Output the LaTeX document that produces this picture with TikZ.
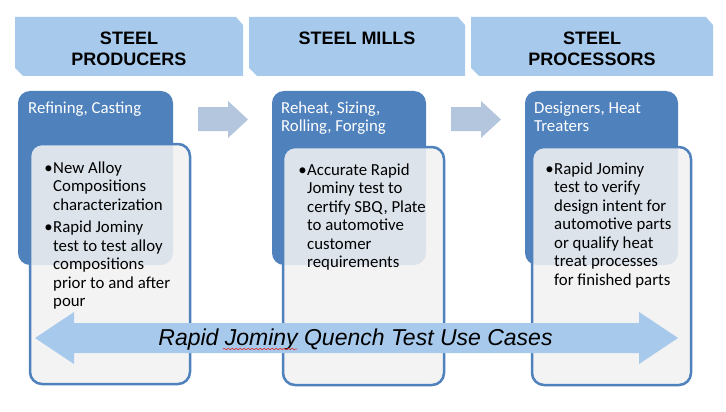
\documentclass[tikz,border=0pt]{standalone}
\usepackage{fontspec}
\setmainfont{Carlito}
\newfontfamily\arialf{Liberation Sans}
\usetikzlibrary{decorations.pathmorphing}
\definecolor{hdr}{HTML}{A7CAEC}
\definecolor{darkb}{HTML}{4F81BD}
\definecolor{lightf}{HTML}{F2F2F2}
\definecolor{smallarr}{HTML}{B4C6DE}
\definecolor{bigarr}{HTML}{A7CAEC}
\definecolor{squig}{HTML}{E03030}
\begin{document}
\begin{tikzpicture}[x=1pt,y=-1pt,
  hdrtext/.style={font=\arialf\bfseries\fontsize{18}{21}\selectfont, align=center, inner sep=0pt, text=black},
  darkbox/.style={fill=darkb, rounded corners=12pt},
  lightbox/.style={draw=darkb, line width=2.5pt, fill=lightf, fill opacity=0.87, rounded corners=12pt},
  boxtext/.style={font=\fontsize{16.8}{18.5}\selectfont, inner sep=0pt, anchor=north west, align=left},
  hdtext/.style={boxtext, text=white},
  smallarrow/.style={fill=smallarr},
  bigarrow/.style={fill=bigarr},
  spell/.style={draw=squig, line width=0.6pt, decorate, decoration={snake, amplitude=0.8pt, segment length=4pt}}
]
\useasboundingbox (0,0) rectangle (726,412);
\fill[white] (0,0) rectangle (726,412);

% header banners
\foreach \a/\b in {15/243, 249/465, 471/713} {
  \fill[hdr] (\a,17) -- ({\b-7},17) -- (\b,25) -- (\b,76) -- ({\a+8},76) -- (\a,68) -- cycle;
}
\node[hdrtext] (h1) at (129,49) {STEEL\\PRODUCERS};
\node[hdrtext] (h2) at (357,38.5) {STEEL MILLS};
\node[hdrtext] (h3) at (592,49) {STEEL\\PROCESSORS};

% dark boxes
\path[darkbox] (18,91) rectangle (173,265);
\path[darkbox] (272,91) rectangle (426,265);
\path[darkbox] (525,91) rectangle (678,265);

% light boxes
\path[lightbox] (30,144) rectangle (190,384);
\path[lightbox] (283,147) rectangle (444,385);
\path[lightbox] (532,147) rectangle (691,385);

% small arrows
\fill[smallarrow] (198,107) -- (228,107) -- (228,101) -- (248,119.5) -- (228,138) -- (228,131) -- (198,131) -- cycle;
\fill[smallarrow] (451,107) -- (481,107) -- (481,101) -- (501,119.5) -- (481,138) -- (481,131) -- (451,131) -- cycle;

% dark box texts
\node[hdtext] (d1) at (28,99.5) {\rule{0pt}{13.5pt}Refining, Casting};
\node[hdtext] (d2) at (281,99.5) {\rule{0pt}{13.5pt}Reheat, Sizing,\\Rolling, Forging};
\node[hdtext] (d3) at (534,99.5) {\rule{0pt}{13.5pt}Designers, Heat\\Treaters};

% bullet texts
\node[boxtext] (b1) at (53,159.5) {\rule{0pt}{13.5pt}\llap{•\hspace{0.5pt}}New Alloy\\Compositions\\characterization\\[4pt]\llap{•\hspace{0.5pt}}Rapid Jominy\\test to test alloy\\compositions\\prior to and after\\pour};
\node[boxtext] (b2) at (307,161.5) {\rule{0pt}{13.5pt}\llap{•\hspace{0.5pt}}Accurate Rapid\\Jominy test to\\certify SBQ, Plate\\to automotive\\customer\\requirements};
\node[boxtext] (b3) at (554,160.5) {\rule{0pt}{13.5pt}\llap{•\hspace{0.5pt}}Rapid Jominy\\test to verify\\design intent for\\automotive parts\\or qualify heat\\treat processes\\for finished parts};

% big double arrow
\fill[bigarrow] (35,338) -- (74,312) -- (74,323) -- (639,323) -- (639,312) -- (678,338) -- (639,364) -- (639,353) -- (74,353) -- (74,364) -- cycle;
\node[font=\arialf\itshape\fontsize{23}{27}\selectfont, anchor=base, inner sep=0pt] (lbl) at (355.5,345) {Rapid Jominy Quench Test Use Cases};
\coordinate (sq1) at (223,349);
\coordinate (sq2) at (297,349);
\draw[spell] (sq1) -- (sq2);
\end{tikzpicture}
\end{document}
